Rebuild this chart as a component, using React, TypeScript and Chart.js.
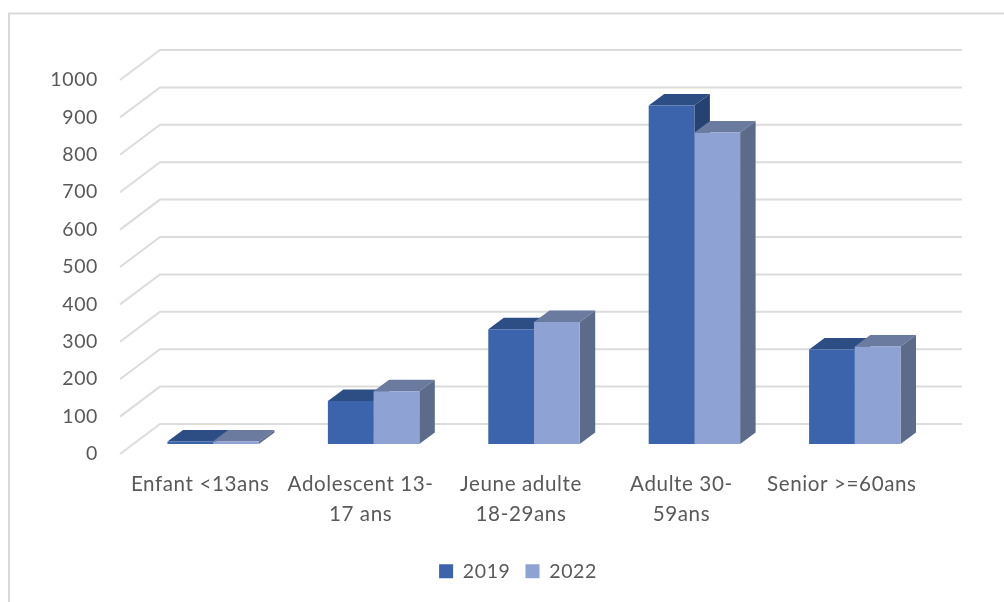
import { useEffect, useRef } from "react";
import { Chart, registerables } from "chart.js";

Chart.register(...registerables);

const categories = [
  "Enfant <13ans",
  ["Adolescent 13-", "17 ans"],
  ["Jeune adulte", "18-29ans"],
  ["Adulte 30-", "59ans"],
  "Senior >=60ans",
];
const values2019 = [7, 115, 307, 905, 253];
const values2022 = [7, 141, 326, 833, 261];

const WALL_DX = 40;
const WALL_DY = 30;
const RIGHT_EDGE = 962;
const BAR_SHIFT_X = 13;
const BAR_SHIFT_Y = 10;
const BAR_DX = 15.5;
const BAR_DY = 11.5;
const LEGEND_SHIFT = 57;
const FONT = "Lato, Carlito, Calibri, sans-serif";
const TEXT = "#595959";
const GRID = "#DCDCDC";

const faces = [
  { top: "#2D4E85", side: "#254273" },
  { top: "#6B7BA0", side: "#5D6B8A" },
];

const poly = (ctx: CanvasRenderingContext2D, pts: number[][], fill: string) => {
  ctx.beginPath();
  pts.forEach(([x, y], i) => (i ? ctx.lineTo(x, y) : ctx.moveTo(x, y)));
  ctx.closePath();
  ctx.fillStyle = fill;
  ctx.fill();
};

const bars3d = {
  id: "bars3d",
  beforeUpdate(chart: any) {
    chart.ctx.letterSpacing = "0.6px";
  },
  afterLayout(chart: any) {
    chart.legend.left += LEGEND_SHIFT;
    chart.legend.right += LEGEND_SHIFT;
    chart.legend.top += 0.5;
    chart.legend.bottom += 0.5;
  },
  beforeDraw(chart: any) {
    const { ctx, width, height } = chart;
    ctx.save();
    ctx.strokeStyle = "#D9D9D9";
    ctx.lineWidth = 2;
    ctx.beginPath();
    ctx.moveTo(9, height + 2);
    ctx.lineTo(9, 13.5);
    ctx.lineTo(width + 2, 13.5);
    ctx.stroke();
    const yScale = chart.scales.y;
    const left = chart.chartArea.left;
    ctx.strokeStyle = GRID;
    ctx.lineWidth = 2;
    yScale.ticks.forEach((t: any) => {
      const y = yScale.getPixelForValue(t.value);
      ctx.beginPath();
      ctx.moveTo(left, y);
      ctx.lineTo(left + WALL_DX, y - WALL_DY);
      ctx.lineTo(RIGHT_EDGE, y - WALL_DY);
      ctx.stroke();
    });
    ctx.restore();
  },
  beforeDatasetsDraw(chart: any) {
    const { ctx } = chart;
    ctx.save();
    ctx.translate(BAR_SHIFT_X, -BAR_SHIFT_Y);
    [0, 1].forEach((i) => {
      const face = faces[i];
      chart.getDatasetMeta(i).data.forEach((el: any) => {
        const { x, y, base, width } = el.getProps(["x", "y", "base", "width"], true);
        const l = x - width / 2;
        const r = x + width / 2;
        poly(ctx, [[l, y], [l + BAR_DX, y - BAR_DY], [r + BAR_DX, y - BAR_DY], [r, y]], face.top);
        poly(ctx, [[r, y], [r + BAR_DX, y - BAR_DY], [r + BAR_DX, base - BAR_DY], [r, base]], face.side);
      });
    });
    ctx.restore();
  },
  beforeDatasetDraw(chart: any) {
    chart.ctx.save();
    chart.ctx.translate(BAR_SHIFT_X, -BAR_SHIFT_Y);
  },
  afterDatasetDraw(chart: any) {
    chart.ctx.restore();
  },
};

export default function App() {
  const ref = useRef<HTMLCanvasElement>(null);
  useEffect(() => {
    const chart = new Chart(ref.current!, {
      type: "bar",
      data: {
        labels: categories as any,
        datasets: [
          { label: "2019", data: values2019, backgroundColor: "#3B64AD", barPercentage: 1, categoryPercentage: 0.57, clip: false as any },
          { label: "2022", data: values2022, backgroundColor: "#8FA2D4", barPercentage: 1, categoryPercentage: 0.57, clip: false as any },
        ],
      },
      options: {
        responsive: false,
        animation: false,
        devicePixelRatio: 1,
        layout: { padding: { left: 0, top: 80, right: 82, bottom: 11.5 } },
        plugins: {
          title: { display: false },
          tooltip: { enabled: false },
          legend: {
            position: "bottom",
            labels: {
              boxWidth: 14,
              boxHeight: 14,
              padding: 15,
              color: TEXT,
              font: { family: FONT, size: 19.5 },
            },
          },
        },
        scales: {
          x: {
            grid: { display: false },
            border: { display: false },
            ticks: {
              autoSkip: false,
              maxRotation: 0,
              minRotation: 0,
              padding: 7,
              color: TEXT,
              font: { family: FONT, size: 20.6, lineHeight: 1.456 },
            },
            afterFit(scale: any) {
              scale.height = 92;
            },
          } as any,
          y: {
            min: 0,
            max: 1000,
            grid: { display: false },
            border: { display: false },
            ticks: {
              stepSize: 100,
              padding: 14,
              color: TEXT,
              font: { family: FONT, size: 19.5 },
              callback: (v: any) => String(v),
            },
            afterFit(scale: any) {
              scale.width = 120;
            },
          },
        },
      },
      plugins: [bars3d],
    } as any);
    return () => chart.destroy();
  }, []);
  return (
    <div style={{ position: "fixed", left: 0, top: 0, width: 1004, height: 602, background: "#fff", overflow: "hidden" }}>
      <canvas ref={ref} width={1004} height={602} style={{ display: "block" }} />
    </div>
  );
}
